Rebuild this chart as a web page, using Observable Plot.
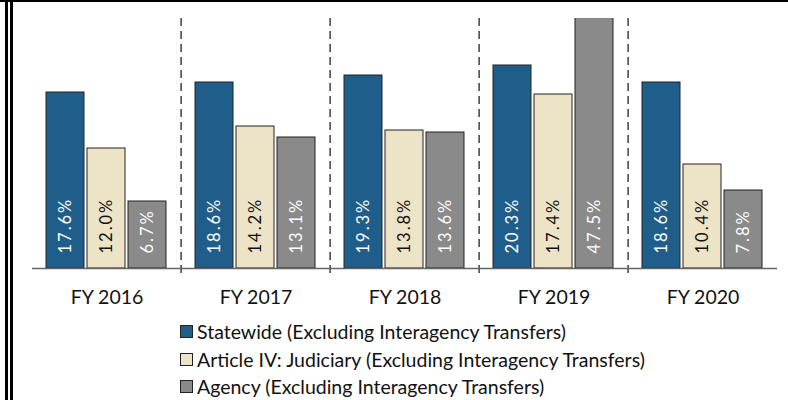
<!DOCTYPE html>
<html><head><meta charset="utf-8">
<script src="https://cdn.jsdelivr.net/npm/d3@7"></script>
<script src="https://cdn.jsdelivr.net/npm/@observablehq/plot@0.6"></script>
<style>
body{margin:0;background:#fff;font-family:Lato, sans-serif;}
#wrap{position:relative;width:788px;height:400px;overflow:hidden;background:#fff;}
#chart{position:absolute;left:0;top:0;}
.bt{position:absolute;left:0;top:0;width:788px;height:2px;background:#000}
.bl{position:absolute;top:0;height:400px;width:3px;background:#000}
#legend{position:absolute;left:180px;top:318px;font-size:19.5px;color:#111;line-height:1;}
.row{height:27.5px;display:flex;align-items:center;white-space:nowrap;}
.sw{width:11px;height:11px;border:1px solid #222;margin-right:4px;flex:none}
</style></head>
<body><div id="wrap"><div id="chart"></div><div class="bt"></div><div class="bl" style="left:5px"></div><div class="bl" style="left:10px"></div><div id="legend"></div></div>
<script>
const years = ["FY 2016","FY 2017","FY 2018","FY 2019","FY 2020"];
const series = ["Statewide (Excluding Interagency Transfers)", "Article IV: Judiciary (Excluding Interagency Transfers)", "Agency (Excluding Interagency Transfers)"];
const statewide = [17.6,18.6,19.3,20.3,18.6];
const judiciary = [12.0,14.2,13.8,17.4,10.4];
const agency = [6.7,13.1,13.6,47.5,7.8];
const colors = ["#1f5e8a","#ede3c7","#8a8a8a"];

const data = years.flatMap((y,i)=>[statewide,judiciary,agency].map((arr,j)=>({year:y, series:series[j], value:arr[i], si:j})));
const W=788,H=310, mL=30, mR=9;
const fxS = Plot.scale({x:{type:"band", domain: years, range:[mL, W-mR], padding:0}});
const band = fxS.bandwidth ?? (W-mL-mR)/years.length;

const chart = Plot.plot({
  width: W, height: H, marginTop:18, marginBottom:42, marginLeft:mL, marginRight:mR,
  style:{fontFamily:"Lato, sans-serif", fontSize:"19.5px", background:"transparent", color:"#111"},
  fx:{domain:years, paddingInner:0, paddingOuter:0, label:null, axis:"bottom", tickSize:0, tickPadding:22},
  x:{domain:series, paddingInner:0.07, paddingOuter:0.31, axis:null},
  y:{domain:[0,25], axis:null},
  color:{domain:series, range:colors},
  marks:[
    Plot.barY(data,{fx:"year", x:"series", y:"value", fill:"series", stroke:"#222", strokeWidth:1, clip:true}),
    Plot.text(data.filter(d=>d.si!==1),{fx:"year", x:"series", y:()=>0, text:d=>d.value.toFixed(1)+"%", rotate:-90, textAnchor:"start", dy:-15, fill:"#fff", fontSize:16.5}),
    Plot.text(data.filter(d=>d.si===1),{fx:"year", x:"series", y:()=>0, text:d=>d.value.toFixed(1)+"%", rotate:-90, textAnchor:"start", dy:-15, fill:"#111", fontSize:16.5}),
    Plot.ruleX(years.slice(1),{fx:d=>d, x:null, dx:-band/2, stroke:"#222", strokeWidth:1.3, strokeDasharray:"8,5", insetBottom:-9}),
    Plot.ruleY([0], {stroke:"#666", strokeWidth:1.5})
  ]
});
chart.querySelectorAll("text").forEach(t=>{ if(t.textContent.includes("%")) t.style.letterSpacing="2px"; });
document.getElementById("chart").appendChild(chart);

const legend = document.getElementById("legend");
series.forEach((s,i)=>{
  const r = document.createElement("div"); r.className="row";
  const sw = document.createElement("span"); sw.className="sw"; sw.style.background=colors[i];
  const t = document.createElement("span"); t.textContent=s;
  r.appendChild(sw); r.appendChild(t); legend.appendChild(r);
});
</script></body></html>
